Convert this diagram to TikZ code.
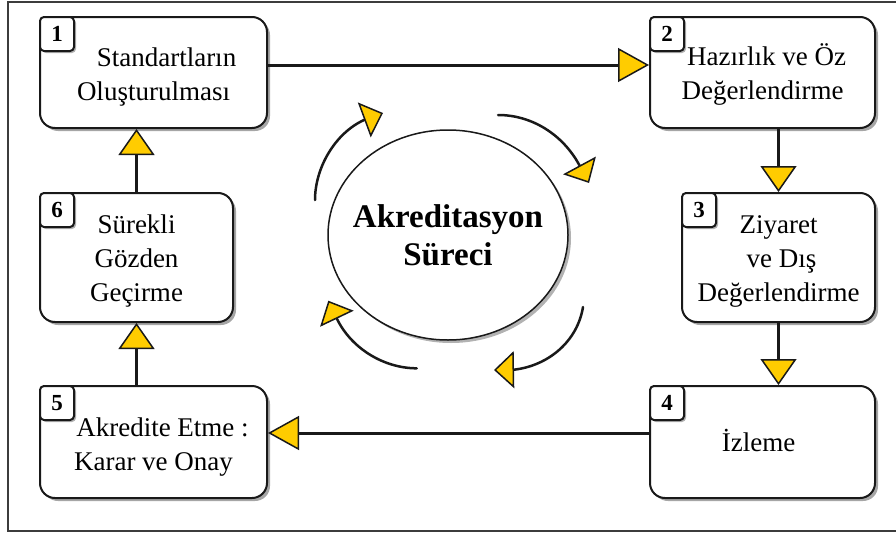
\documentclass[tikz,border=0pt]{standalone}
\usepackage{fontspec}
\setmainfont{Liberation Serif}
\usetikzlibrary{arrows.meta,shapes.geometric,shadows,calc}
\definecolor{ayellow}{RGB}{255,204,0}
\definecolor{framecol}{RGB}{60,60,60}
\definecolor{linecol}{RGB}{25,25,25}
\tikzset{
  htip/.tip={Triangle[length=31pt,width=34pt,fill=ayellow,line width=1.5pt]},
  vtip/.tip={Triangle[length=26pt,width=36pt,fill=ayellow,line width=1.5pt]},
  ctip/.tip={Triangle[length=20pt,width=37pt,fill=ayellow,line width=1.5pt]},
}
\begin{document}
\begin{tikzpicture}[x=1pt,y=-1pt,
  box/.style={draw=linecol, line width=2pt, rounded corners=15pt, fill=white,
    inner sep=0pt,
    drop shadow={shadow xshift=3pt, shadow yshift=-3pt, opacity=0.35, fill=black}},
  numbox/.style={draw=linecol, line width=2pt, rounded corners=4pt, fill=white,
    minimum size=34pt, inner sep=0pt, font=\fontsize{23}{23}\selectfont\bfseries,
    drop shadow={shadow xshift=2pt, shadow yshift=-2pt, opacity=0.3, fill=black}},
  btext/.style={align=center, font=\fontsize{27}{34}\selectfont, inner sep=0pt},
  conn/.style={line width=3pt, draw=linecol},
  arcline/.style={line width=2.5pt, draw=linecol, line cap=round},
]
\useasboundingbox (0,0) rectangle (896,538);
% frame
\draw[framecol, line width=2pt] (896,2) -- (8,2) -- (8,531) -- (896,531);

% boxes
\node[box, minimum width=227pt, minimum height=111pt] (b1) at (153.5,72.5) {};
\node[box, minimum width=225pt, minimum height=111pt] (b2) at (762.5,72.5) {};
\node[box, minimum width=193pt, minimum height=129pt] (b6) at (136.5,257.5) {};
\node[box, minimum width=193pt, minimum height=129pt] (b3) at (778.5,257.5) {};
\node[box, minimum width=227pt, minimum height=112pt] (b5) at (153.5,442) {};
\node[box, minimum width=225pt, minimum height=112pt] (b4) at (762.5,442) {};

% numbers
\node[numbox, anchor=north west] (n1) at (b1.north west) {1};
\node[numbox, anchor=north west] (n2) at (b2.north west) {2};
\node[numbox, anchor=north west] (n3) at (b3.north west) {3};
\node[numbox, anchor=north west] (n4) at (b4.north west) {4};
\node[numbox, anchor=north west] (n5) at (b5.north west) {5};
\node[numbox, anchor=north west] (n6) at (b6.north west) {6};

% box texts
\node[btext] (t1) at ($(b1.center)+(0,4.5)$) {\hspace*{26pt}Standartların\\Oluşturulması};
\node[btext] (t2) at ($(b2.center)+(0,1.5)$) {\hspace*{8pt}Hazırlık ve Öz\\Değerlendirme};
\node[btext] (t3) at ($(b3.center)+(0,4)$) {Ziyaret\\\hspace*{6pt}ve Dış\\Değerlendirme};
\node[btext] (t4) at ($(b4.center)+(-4,-1.5)$) {İzleme};
\node[btext] (t5) at ($(b5.center)+(0,5)$) {\hspace*{18pt}Akredite Etme :\\Karar ve Onay};
\node[btext] (t6) at ($(b6.center)+(0,3.5)$) {Sürekli\\Gözden\\Geçirme};

% central ellipse
\node[ellipse, draw=linecol, line width=1.5pt, fill=white,
  minimum width=240pt, minimum height=210pt, inner sep=0pt,
  drop shadow={shadow xshift=3pt, shadow yshift=-3pt, opacity=0.3, fill=black}]
  (e) at (448,235) {};
\node[align=center, inner sep=0pt, font=\fontsize{33}{38}\selectfont\bfseries]
  (et) at ($(e.center)+(0,0)$) {Akreditasyon\\Süreci};

% connectors
\coordinate (h12) at (0,65);
\coordinate (h45) at (0,433);
\draw[conn, -{htip}] (b1.east |- h12) -- (b2.west |- h12);
\draw[conn, -{vtip}] (b3.north |- b2.south) -- (b3.north);
\draw[conn, -{vtip}] (b3.south) -- (b3.south |- b4.north);
\draw[conn, -{htip}] (b4.west |- h45) -- (b5.east |- h45);
\draw[conn, -{vtip}] (b6.south |- b5.north) -- (b6.south);
\draw[conn, -{vtip}] (b6.north) -- (b6.north |- b1.south);

% cycle arrows
\coordinate (c1s) at (315,200);  \coordinate (c1b) at (364,120);   \coordinate (c1t) at (383,113);
\coordinate (c2s) at (498,115);  \coordinate (c2b) at (579,164.5); \coordinate (c2t) at (589,183);
\coordinate (c3s) at (583,307);  \coordinate (c3b) at (514,369.7); \coordinate (c3t) at (494,370);
\coordinate (c4s) at (416.7,368.3); \coordinate (c4b) at (336.7,318.3); \coordinate (c4t) at (328.3,300.7);
\draw[arcline, -{ctip}] (c1s) .. controls (315,168) and (334.8,133.4) .. (c1b) -- (c1t);
\draw[arcline, -{ctip}] (c2s) .. controls (532,115) and (562.6,134.6) .. (c2b) -- (c2t);
\draw[arcline, -{ctip}] (c3s) .. controls (577.4,341.4) and (548.4,365.7) .. (c3b) -- (c3t);
\draw[arcline, -{ctip}] (c4s) .. controls (383.6,368.3) and (350.9,348.1) .. (c4b) -- (c4t);
\end{tikzpicture}
\end{document}
